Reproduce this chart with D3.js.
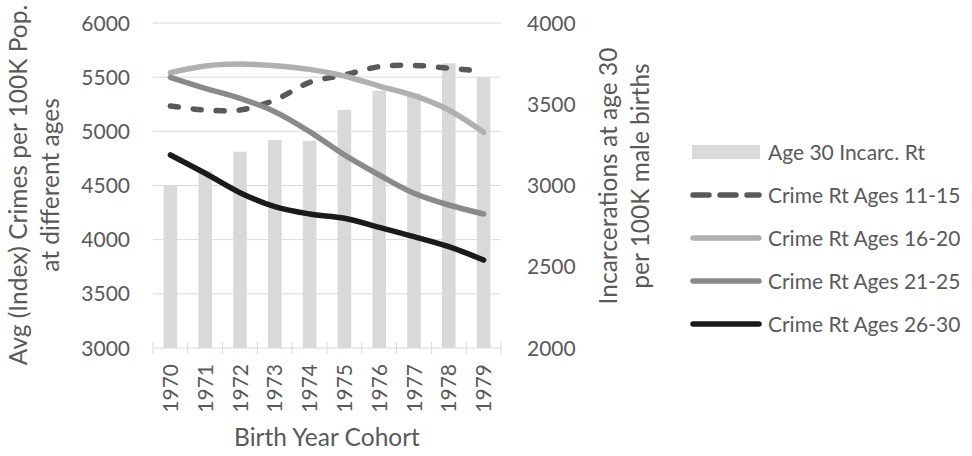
<!DOCTYPE html>
<html><head><meta charset="utf-8">
<script src="https://cdn.jsdelivr.net/npm/d3@7"></script>
<style>body{margin:0;background:#fff}svg{display:block}text{font-family:Lato,sans-serif;fill:#595959}</style>
</head><body><svg id="c" width="972" height="456"></svg>
<script>
const years = ["1970","1971","1972","1973","1974","1975","1976","1977","1978","1979"];
const incarc = [3000,3090,3208,3280,3275,3465,3583,3567,3752,3666];
const crime1115 = [5234,5197,5197,5289,5452,5520,5597,5609,5582,5554];
const crime1620 = [5541,5603,5621,5606,5572,5511,5418,5329,5197,4991];
const crime2125 = [5499,5397,5305,5181,4997,4782,4597,4428,4320,4237];
const crime2630 = [4782,4613,4434,4305,4237,4197,4114,4028,3935,3812];
const leftTicks = [3000,3500,4000,4500,5000,5500,6000];
const rightTicks = [2000,2500,3000,3500,4000];
const legendLabels = ["Age 30 Incarc. Rt","Crime Rt Ages 11-15","Crime Rt Ages 16-20","Crime Rt Ages 21-25","Crime Rt Ages 26-30"];

const FS = 21, TFS = 24.5;
const svg = d3.select("#c");
const L=153,R=501,T=23,B=348;
const x = d3.scaleBand().domain(years).range([L,R]).paddingInner(0.61).paddingOuter(0.305);
const xb = d3.scaleBand().domain(years).range([L,R]);
const yL = d3.scaleLinear().domain([3000,6000]).range([B,T]);
const yR = d3.scaleLinear().domain([2000,4000]).range([B,T]);

// gridlines
svg.append("g").selectAll("line").data(leftTicks.slice(1)).join("line")
  .attr("x1",L).attr("x2",R).attr("y1",d=>yL(d)).attr("y2",d=>yL(d))
  .attr("stroke","#d9d9d9").attr("stroke-width",1);

// bars
svg.append("g").selectAll("rect").data(incarc).join("rect")
  .attr("x",(d,i)=>x(years[i])).attr("width",x.bandwidth())
  .attr("y",d=>yR(d)).attr("height",d=>B-yR(d)).attr("fill","#d9d9d9");

// bottom axis
const gx = svg.append("g").attr("transform",`translate(0,${B})`);
gx.append("line").attr("x1",L).attr("x2",R).attr("stroke","#d9d9d9");
gx.selectAll(".tk").data(d3.range(years.length+1)).join("line")
  .attr("x1",i=>L+i*xb.step()).attr("x2",i=>L+i*xb.step()).attr("y1",-6).attr("y2",6)
  .attr("stroke","#d9d9d9");
gx.selectAll("text").data(years).join("text")
  .attr("transform",d=>`translate(${xb(d)+xb.bandwidth()/2+7.5},${16}) rotate(-90)`)
  .attr("text-anchor","end").attr("font-size",FS).text(d=>d);

// left axis labels
svg.append("g").selectAll("text").data(leftTicks).join("text")
  .attr("x",130).attr("y",d=>yL(d)+7.5).attr("text-anchor","end").attr("font-size",FS).text(d=>d);
svg.append("g").selectAll("text").data(rightTicks).join("text")
  .attr("x",527).attr("y",d=>yR(d)+7.5).attr("text-anchor","start").attr("font-size",FS).text(d=>d);

// axis titles
const lt = svg.append("text").attr("transform","translate(27,185) rotate(-90)").attr("text-anchor","middle").attr("font-size",TFS);
lt.append("tspan").attr("x",0).attr("dy",0).text("Avg (Index) Crimes per 100K Pop.");
lt.append("tspan").attr("x",0).attr("dy",32).text("at different ages");
const rt = svg.append("text").attr("transform","translate(617,176) rotate(-90)").attr("text-anchor","middle").attr("font-size",TFS);
rt.append("tspan").attr("x",0).attr("dy",0).text("Incarcerations at age 30");
rt.append("tspan").attr("x",0).attr("dy",32).text("per 100K male births");
svg.append("text").attr("x",327).attr("y",446).attr("text-anchor","middle").attr("font-size",TFS).text("Birth Year Cohort");

// lines
const series = [
  {v:crime1115,c:"#595959",dash:"8,15",ldash:"16,11"},
  {v:crime1620,c:"#b0b0b0",dash:null},
  {v:crime2125,c:"#8a8a8a",dash:null},
  {v:crime2630,c:"#1a1a1a",dash:null}
];
const line = d3.line().x((d,i)=>xb(years[i])+xb.bandwidth()/2).y(d=>yL(d)).curve(d3.curveCatmullRom.alpha(0.5));
series.forEach(s=>{
  svg.append("path").attr("d",line(s.v)).attr("fill","none").attr("stroke",s.c)
    .attr("stroke-width",5.5).attr("stroke-linecap","round").attr("stroke-linejoin","round")
    .attr("stroke-dasharray",s.dash);
});

// legend
const lg = svg.append("g");
const ly = [152,195,238,281,324];
lg.append("rect").attr("x",692).attr("y",ly[0]-7).attr("width",68).attr("height",14).attr("fill","#d9d9d9");
series.forEach((s,i)=>{
  lg.append("line").attr("x1",693).attr("x2",759).attr("y1",ly[i+1]).attr("y2",ly[i+1])
    .attr("stroke",s.c).attr("stroke-width",5.5).attr("stroke-linecap","round").attr("stroke-dasharray",s.ldash || null);
});
lg.selectAll("text").data(legendLabels).join("text")
  .attr("x",768).attr("y",(d,i)=>ly[i]+7.5).attr("font-size",FS).text(d=>d);
</script></body></html>
